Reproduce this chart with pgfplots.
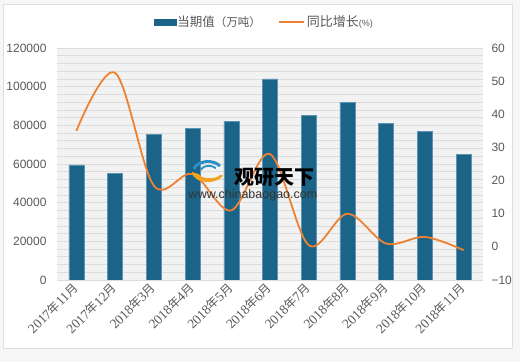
\documentclass[border=0pt]{standalone}
\usepackage{fontspec}
\setmainfont{Liberation Sans}
\newfontfamily\cjk{Noto Sans CJK SC}
\newfontfamily\serifd{Liberation Serif}
\usepackage{pgfplots}
\pgfplotsset{compat=1.18}
\definecolor{barblue}{HTML}{1B6488}
\definecolor{baredge}{HTML}{5A93B3}
\definecolor{lineorange}{HTML}{EE8233}
\definecolor{tickgray}{HTML}{595959}
\definecolor{plotbg}{HTML}{F2F2F2}
\definecolor{gridc}{HTML}{DCDCDC}
\definecolor{logoblue}{HTML}{2A8FC6}
\definecolor{logoorange}{HTML}{F2A21F}
\newcommand{\ym}[2]{{\serifd #1}{\cjk\fontsize{12}{14}\selectfont 年}{\serifd #2}{\cjk\fontsize{12}{14}\selectfont 月}}
\begin{document}
\begin{tikzpicture}
\path[use as bounding box] (0,0) rectangle (520pt,362pt);
\fill[gray!7] (0,0) rectangle (520pt,362pt);
\fill[white, draw=gray!25] (3pt,14pt) rectangle (512pt,358pt);
\begin{axis}[
  at={(57pt,82pt)}, anchor=south west,
  width=426pt, height=232pt, scale only axis,
  xmin=-0.5, xmax=10.5,
  ymin=0, ymax=120000,
  ytick={0,20000,...,120000},
  minor y tick num=4,
  ymajorgrids, yminorgrids,
  major grid style={gridc, line width=0.6pt},
  minor grid style={gridc, line width=0.6pt},
  axis background/.style={fill=plotbg},
  axis line style={draw=none},
  major tick length=0pt, minor tick length=0pt,
  scaled y ticks=false,
  yticklabel style={/pgf/number format/fixed, /pgf/number format/1000 sep={}, /pgf/number format/assume math mode=true, font=\fontsize{12}{14}\selectfont, text=tickgray},
  yticklabel shift=7pt,
  xtick={0,...,10},
  xticklabels={\ym{2017}{11},\ym{2017}{12},\ym{2018}{3},\ym{2018}{4},\ym{2018}{5},\ym{2018}{6},\ym{2018}{7},\ym{2018}{8},\ym{2018}{9},\ym{2018}{10},\ym{2018}{11}},
  xticklabel style={rotate=45, anchor=east, font=\fontsize{13.5}{15}\selectfont, text=tickgray, inner sep=1pt},
  xticklabel shift=5pt,
]
\addplot[ybar, bar width=15pt, fill=barblue, draw=baredge, line width=0.5pt] coordinates {
(0,59500) (1,55000) (2,75500) (3,78500) (4,82000) (5,104000) (6,85000) (7,92000) (8,81000) (9,77000) (10,65000)};
\end{axis}
\begin{axis}[
  at={(57pt,82pt)}, anchor=south west,
  width=426pt, height=232pt, scale only axis,
  xmin=-0.5, xmax=10.5,
  ymin=-10, ymax=60,
  axis y line*=right,
  hide x axis,
  axis line style={draw=none},
  major tick length=0pt,
  ytick={-10,0,...,60},
  yticklabels={−10,0,10,20,30,40,50,60},
  yticklabel style={font=\fontsize{12}{14}\selectfont, text=tickgray},
  yticklabel shift=5pt,
  legend style={at={(0.5,1)}, anchor=center, xshift=-6pt, yshift=26pt, draw=none, fill=none, legend columns=2,
    /tikz/every even column/.append style={column sep=16pt}, nodes={inner sep=1.5pt, text=tickgray}},
]
\addlegendimage{legend image code/.code={\fill[barblue] (0pt,-3pt) rectangle (22pt,3pt);}}
\addlegendentry{{\cjk\fontsize{12.5}{14}\selectfont 当期值}{\cjk\fontsize{11.5}{13}\selectfont （万吨）}}
\addplot[smooth, tension=0.55, color=lineorange, line width=1.8pt, legend image code/.code={\draw[lineorange, line width=2pt] (0pt,0pt) -- (25pt,0pt);}] coordinates {
(0,35) (1,52.5) (2,18.5) (3,22) (4,11) (5,28) (6,0.5) (7,10) (8,1) (9,3) (10,-1)};
\addlegendentry{{\cjk\fontsize{13}{15}\selectfont 同比增长}{\fontsize{9}{10}\selectfont (\%)}}
\end{axis}
% watermark
\begin{scope}[shift={(208pt,191pt)}]
\draw[logoblue, line width=3pt] (-14pt,2pt) arc (170:30:14pt and 9pt);
\draw[logoblue, line width=1.8pt] (-7pt,1pt) arc (170:30:8pt and 5pt);
\fill[logoorange] (-16pt,-1pt) arc (180:340:16pt and 10pt) -- (12pt,-4pt) arc (340:190:11pt and 5pt) -- cycle;
\end{scope}
\node[font=\cjk\bfseries\fontsize{20}{22}\selectfont, text=black] at (274pt,185pt) {观研天下};
\node[font=\fontsize{12.5}{14}\selectfont, text=black!80] at (253pt,167pt) {www.chinabaogao.com};
\end{tikzpicture}
\end{document}
